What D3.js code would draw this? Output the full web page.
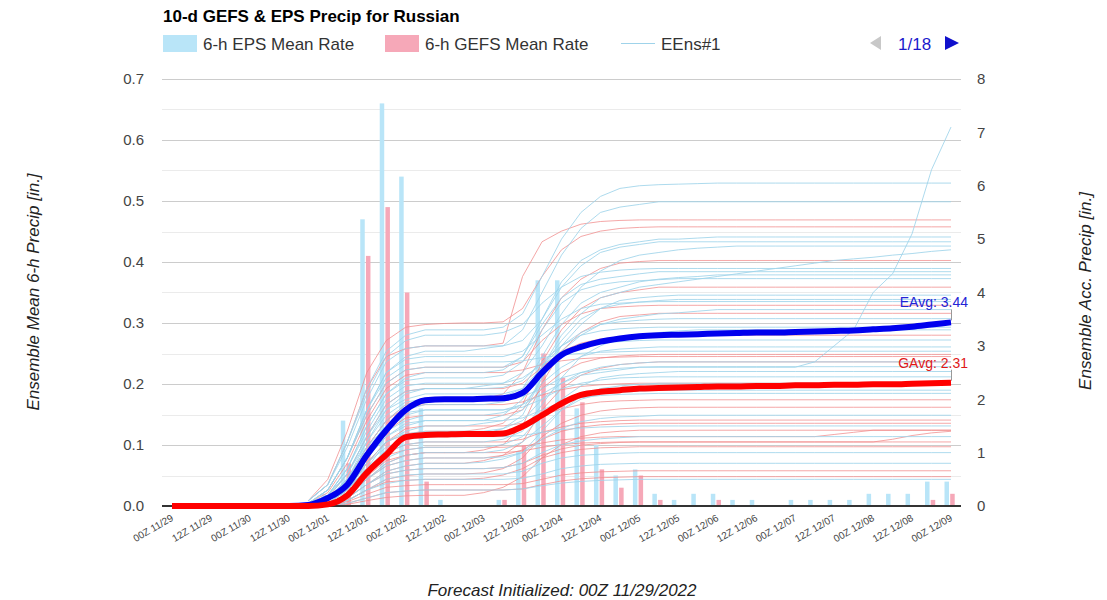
<!DOCTYPE html>
<html>
<head>
<meta charset="utf-8">
<script src="https://cdn.jsdelivr.net/npm/d3@7"></script>
<style>
body { margin: 0; background: #fff; }
svg { font-family: "Liberation Sans", Arial, sans-serif; }
</style>
</head>
<body>
<svg width="1107" height="600"></svg>
<script>
// 6-hourly steps from 00Z 11/29 to 00Z 12/09 (41 points), labels every 12h
var tickLabels = ["00Z 11/29","12Z 11/29","00Z 11/30","12Z 11/30","00Z 12/01","12Z 12/01",
  "00Z 12/02","12Z 12/02","00Z 12/03","12Z 12/03","00Z 12/04","12Z 12/04","00Z 12/05",
  "12Z 12/05","00Z 12/06","12Z 12/06","00Z 12/07","12Z 12/07","00Z 12/08","12Z 12/08","00Z 12/09"];

// 6-h mean rates [in.]
var epsBars = [0,0,0,0,0,0,0,0,0.02,0.14,0.47,0.66,0.54,0.16,0.01,0,0,0.01,0.09,0.37,0.37,0.16,0.10,0.05,
  0.06,0.02,0.01,0.02,0.02,0.01,0.01,0,0.01,0.01,0.01,0.01,0.02,0.02,0.02,0.04,0.04];
var gefsBars = [0,0,0,0,0,0,0,0,0,0.07,0.41,0.49,0.35,0.04,0,0,0,0.01,0.10,0.25,0.21,0.17,0.06,0.03,
  0.05,0.01,0,0,0.01,0,0,0,0,0,0,0,0,0,0,0.01,0.02];

// ensemble mean accumulations [in.]
var epsAvg = [0,0,0,0,0,0,0,0.02,0.15,0.4,0.95,1.42,1.8,1.98,2.0,2.0,2.01,2.02,2.12,2.5,2.83,2.98,3.08,3.14,
  3.18,3.2,3.21,3.22,3.23,3.24,3.25,3.25,3.26,3.27,3.28,3.29,3.31,3.33,3.36,3.4,3.44];
var gefsAvg = [0,0,0,0,0,0,0,0,0.03,0.2,0.62,0.96,1.29,1.33,1.34,1.35,1.35,1.36,1.49,1.7,1.92,2.08,2.14,2.17,
  2.2,2.21,2.22,2.23,2.24,2.24,2.25,2.25,2.26,2.26,2.27,2.27,2.28,2.28,2.29,2.3,2.31];

// member accumulations, starting at step 7 (18Z 11/30); earlier steps are 0
var memberStart = 7;
var epsMembers = [
  [0,.15,.5,1.0,1.5,1.7, 1.8,1.8,1.8,1.8,1.8,1.9, 2.1,2.3,2.45,2.5,2.55,2.6, 2.6,2.6,2.6,2.6,2.6,2.6,2.6,2.6, 2.7,3.0,3.3,4.0,4.35,5.1,6.3,7.1],
  [.1,.4,1.2,2.2,2.9,3.2, 3.3,3.3,3.3,3.3,3.35,3.6, 4.3,5.0,5.5,5.8,5.95,6.0, 6.02,6.03,6.04,6.05,6.05,6.05,6.05,6.05, 6.05,6.05,6.05,6.05,6.05,6.05,6.05,6.05],
  [.05,.3,.9,1.8,2.5,2.8, 2.9,2.9,2.9,2.95,3.0,3.3, 4.0,4.7,5.2,5.5,5.6,5.65, 5.7,5.7,5.7,5.7,5.7,5.7,5.7,5.7, 5.7,5.7,5.7,5.7,5.7,5.7,5.7,5.7],
  [0,.2,.7,1.5,2.1,2.4, 2.5,2.5,2.5,2.5,2.55,2.8, 3.5,4.2,4.6,4.8,4.9,4.95, 5.0,5.0,5.02,5.04,5.04,5.04,5.04,5.04, 5.04,5.04,5.04,5.04,5.04,5.04,5.04,5.04],
  [.1,.4,1.1,2.0,2.7,2.95, 3.0,3.0,3.0,3.0,3.0,3.1, 3.5,4.1,4.5,4.75,4.85,4.9, 4.95,4.95,4.95,4.95,4.95,4.95,4.95,4.95, 4.95,4.95,4.95,4.95,4.95,4.95,4.95,4.95],
  [0,.1,.5,1.2,1.8,2.1, 2.2,2.2,2.2,2.25,2.3,2.5, 3.0,3.6,4.1,4.4,4.6,4.7, 4.75,4.8,4.83,4.85,4.87,4.87,4.87,4.87, 4.87,4.87,4.87,4.87,4.87,4.87,4.87,4.87],
  [0,.1,.4,.9,1.3,1.5, 1.6,1.6,1.6,1.6,1.7,2.0, 2.6,3.2,3.6,3.9,4.0,4.1, 4.15,4.2,4.25,4.3,4.35,4.4,4.45,4.5, 4.55,4.6,4.63,4.66,4.7,4.73,4.77,4.8],
  [.05,.3,.9,1.7,2.3,2.55, 2.6,2.6,2.6,2.6,2.6,2.8, 3.4,3.9,4.15,4.25,4.3,4.35, 4.39,4.39,4.39,4.39,4.39,4.39,4.39,4.39, 4.39,4.39,4.39,4.39,4.39,4.39,4.39,4.39],
  [0,.1,.5,1.1,1.6,1.9, 2.0,2.0,2.0,2.0,2.05,2.2, 2.8,3.4,3.8,4.0,4.1,4.2, 4.25,4.28,4.3,4.33,4.33,4.33,4.33,4.33, 4.33,4.33,4.33,4.33,4.33,4.33,4.33,4.33],
  [.05,.2,.7,1.5,2.1,2.35, 2.4,2.4,2.4,2.4,2.45,2.7, 3.3,3.8,4.05,4.15,4.2,4.22, 4.24,4.26,4.26,4.26,4.26,4.26,4.26,4.26, 4.26,4.26,4.26,4.26,4.26,4.26,4.26,4.26],
  [0,.1,.4,1.0,1.5,1.8, 1.9,1.9,1.9,1.9,1.95,2.1, 2.6,3.1,3.5,3.7,3.78,3.82, 3.85,3.87,3.87,3.87,3.87,3.87,3.87,3.87, 3.87,3.87,3.87,3.87,3.87,3.87,3.87,3.87],
  [.05,.3,.9,1.8,2.5,2.75, 2.8,2.8,2.8,2.8,2.8,2.9, 3.2,3.5,3.7,3.78,3.8,3.82, 3.83,3.83,3.83,3.83,3.83,3.83,3.83,3.83, 3.83,3.83,3.83,3.83,3.83,3.83,3.83,3.83],
  [0,.05,.3,.7,1.2,1.4, 1.5,1.5,1.5,1.55,1.6,1.8, 2.4,2.9,3.2,3.4,3.5,3.55, 3.6,3.62,3.65,3.68,3.68,3.68,3.68,3.68, 3.68,3.68,3.68,3.68,3.68,3.68,3.68,3.68],
  [0,.2,.6,1.3,1.8,2.0, 2.1,2.1,2.1,2.1,2.1,2.2, 2.6,3.0,3.25,3.4,3.45,3.48, 3.5,3.51,3.51,3.51,3.51,3.51,3.51,3.51, 3.51,3.51,3.51,3.51,3.51,3.51,3.51,3.51],
  [0,.05,.3,.7,1.0,1.15, 1.2,1.2,1.2,1.2,1.25,1.4, 1.9,2.4,2.8,3.0,3.15,3.2, 3.25,3.28,3.3,3.3,3.3,3.3,3.3,3.3, 3.3,3.3,3.3,3.3,3.3,3.3,3.3,3.3],
  [.05,.2,.7,1.4,2.0,2.25, 2.3,2.3,2.3,2.3,2.3,2.4, 2.65,2.85,2.98,3.05,3.08,3.1, 3.11,3.11,3.11,3.11,3.11,3.11,3.11,3.11, 3.11,3.11,3.11,3.11,3.11,3.11,3.11,3.11],
  [0,.1,.4,1.0,1.4,1.6, 1.7,1.7,1.7,1.7,1.75,1.9, 2.3,2.6,2.8,2.9,2.94,2.96, 2.98,2.98,2.98,2.98,2.98,2.98,2.98,2.98, 2.98,2.98,2.98,2.98,2.98,2.98,2.98,2.98],
  [0,.05,.3,.8,1.2,1.35, 1.4,1.4,1.4,1.4,1.45,1.6, 2.0,2.3,2.5,2.6,2.65,2.68, 2.7,2.7,2.7,2.7,2.7,2.7,2.7,2.7, 2.7,2.7,2.7,2.7,2.7,2.7,2.7,2.7],
  [.05,.2,.6,1.2,1.7,1.95, 2.0,2.0,2.0,2.0,2.0,2.05, 2.2,2.4,2.5,2.55,2.58,2.6, 2.61,2.61,2.61,2.61,2.61,2.61,2.61,2.61, 2.61,2.61,2.61,2.61,2.61,2.61,2.61,2.61],
  [0,.05,.2,.6,.9,1.05, 1.1,1.1,1.1,1.1,1.15,1.3, 1.7,2.0,2.25,2.4,2.45,2.48, 2.5,2.52,2.52,2.52,2.52,2.52,2.52,2.52, 2.52,2.52,2.52,2.52,2.52,2.52,2.52,2.52],
  [0,.15,.5,1.1,1.5,1.75, 1.8,1.8,1.8,1.8,1.8,1.85, 2.0,2.2,2.3,2.36,2.4,2.41, 2.42,2.42,2.42,2.42,2.42,2.42,2.42,2.42, 2.42,2.42,2.42,2.42,2.42,2.42,2.42,2.42],
  [0,.05,.2,.5,.8,.95, 1.0,1.0,1.0,1.0,1.05,1.2, 1.5,1.8,2.0,2.1,2.13,2.15, 2.17,2.17,2.17,2.17,2.17,2.17,2.17,2.17, 2.17,2.17,2.17,2.17,2.17,2.17,2.17,2.17],
  [0,.1,.4,.9,1.3,1.55, 1.6,1.6,1.6,1.6,1.6,1.65, 1.8,1.95,2.03,2.07,2.09,2.1, 2.11,2.11,2.11,2.11,2.11,2.11,2.11,2.11, 2.11,2.11,2.11,2.11,2.11,2.11,2.11,2.11],
  [0,.05,.2,.5,.75,.85, .9,.9,.9,.9,.92,1.0, 1.25,1.45,1.58,1.64,1.67,1.68, 1.7,1.7,1.7,1.7,1.7,1.7,1.7,1.7, 1.7,1.7,1.7,1.7,1.7,1.7,1.7,1.7],
  [0,.1,.3,.8,1.1,1.25, 1.3,1.3,1.3,1.3,1.3,1.32, 1.38,1.43,1.46,1.48,1.49,1.5, 1.5,1.5,1.5,1.5,1.5,1.5,1.5,1.5, 1.5,1.5,1.5,1.5,1.5,1.5,1.5,1.5],
  [0,.02,.15,.4,.6,.67, .7,.7,.7,.7,.72,.8, 1.0,1.15,1.22,1.26,1.28,1.3, 1.3,1.3,1.3,1.3,1.3,1.3,1.3,1.3, 1.3,1.3,1.3,1.3,1.3,1.3,1.3,1.3],
  [0,0,.1,.3,.5,.58, .6,.6,.6,.6,.6,.65, .8,.9,.95,.97,.99,1.0, 1.0,1.0,1.0,1.0,1.0,1.0,1.0,1.0, 1.0,1.0,1.0,1.0,1.0,1.0,1.0,1.0],
  [0,.02,.1,.3,.42,.48, .5,.5,.5,.5,.5,.52, .6,.7,.75,.78,.79,.8, .8,.8,.8,.8,.8,.8,.8,.8, .8,.8,.8,.8,.8,.8,.8,.8],
  [0,0,.05,.15,.25,.28, .3,.3,.3,.3,.3,.32, .38,.43,.46,.48,.49,.5, .5,.5,.5,.5,.5,.5,.5,.5, .5,.5,.5,.5,.5,.5,.5,.5],
  [.05,.3,.9,1.8,2.4,2.65, 2.7,2.7,2.7,2.7,2.7,2.72, 2.78,2.83,2.86,2.88,2.89,2.9, 2.9,2.9,2.9,2.9,2.9,2.9,2.9,2.9, 2.9,2.9,2.9,2.9,2.9,2.9,2.9,2.9],
  [.1,.4,1.2,2.1,2.8,3.1, 3.2,3.2,3.2,3.2,3.25,3.4, 3.8,4.1,4.3,4.38,4.42,4.44, 4.45,4.45,4.45,4.45,4.45,4.45,4.45,4.45, 4.45,4.45,4.45,4.45,4.45,4.45,4.45,4.45],
  [0,.05,.3,.7,1.05,1.25, 1.3,1.3,1.3,1.35,1.45,1.7, 2.4,3.0,3.4,3.7,3.85,3.9, 3.93,3.95,3.95,3.95,3.95,3.95,3.95,3.95, 3.95,3.95,3.95,3.95,3.95,3.95,3.95,3.95],
  [0,.02,.15,.4,.65,.75, .8,.8,.8,.82,.88,1.0, 1.4,1.8,2.05,2.2,2.25,2.28, 2.3,2.3,2.3,2.3,2.3,2.3,2.3,2.3, 2.3,2.3,2.3,2.3,2.3,2.3,2.3,2.3],
  [0,.15,.6,1.3,1.9,2.15, 2.2,2.2,2.2,2.2,2.22,2.35, 2.7,3.0,3.2,3.28,3.32,3.34, 3.35,3.35,3.35,3.35,3.35,3.35,3.35,3.35, 3.35,3.35,3.35,3.35,3.35,3.35,3.35,3.35]
];
var gefsMembers = [
  [.1,.4,1.2,2.2,2.8,2.95, 3.0,3.0,3.0,3.0,3.05,4.3, 4.95,5.15,5.28,5.33,5.35,5.36, 5.36,5.36,5.36,5.36,5.36,5.36,5.36,5.36, 5.36,5.36,5.36,5.36,5.36,5.36,5.36,5.36],
  [.1,.5,1.4,2.5,3.1,3.35, 3.4,3.42,3.43,3.43,3.45,3.7, 4.3,4.8,5.05,5.15,5.2,5.22, 5.23,5.23,5.23,5.23,5.23,5.23,5.23,5.23, 5.23,5.23,5.23,5.23,5.23,5.23,5.23,5.23],
  [0,.1,.5,1.1,1.6,1.9, 2.0,2.0,2.0,2.0,2.1,2.5, 3.3,3.9,4.25,4.45,4.55,4.58, 4.6,4.6,4.6,4.6,4.6,4.6,4.6,4.6, 4.6,4.6,4.6,4.6,4.6,4.6,4.6,4.6],
  [0,.05,.3,.8,1.2,1.35, 1.4,1.4,1.4,1.45,1.55,1.9, 2.7,3.3,3.7,3.9,4.0,4.05, 4.1,4.1,4.1,4.1,4.1,4.1,4.1,4.1, 4.1,4.1,4.1,4.1,4.1,4.1,4.1,4.1],
  [.05,.3,.9,1.7,2.3,2.55, 2.6,2.6,2.6,2.6,2.6,2.7, 3.1,3.4,3.6,3.7,3.73,3.75, 3.76,3.76,3.76,3.76,3.76,3.76,3.76,3.76, 3.76,3.76,3.76,3.76,3.76,3.76,3.76,3.76],
  [0,.05,.2,.5,.8,.95, 1.0,1.0,1.0,1.05,1.15,1.5, 2.3,2.9,3.25,3.45,3.55,3.58, 3.61,3.61,3.61,3.61,3.61,3.61,3.61,3.61, 3.61,3.61,3.61,3.61,3.61,3.61,3.61,3.61],
  [0,.15,.6,1.3,1.9,2.15, 2.2,2.2,2.2,2.2,2.2,2.3, 2.6,2.9,3.05,3.13,3.17,3.19, 3.2,3.2,3.2,3.2,3.2,3.2,3.2,3.2, 3.2,3.2,3.2,3.2,3.2,3.2,3.2,3.2],
  [0,.1,.4,1.0,1.4,1.65, 1.7,1.7,1.7,1.7,1.7,1.8, 2.2,2.5,2.68,2.77,2.81,2.83, 2.84,2.84,2.84,2.84,2.84,2.84,2.84,2.84, 2.84,2.84,2.84,2.84,2.84,2.84,2.84,2.84],
  [0,.02,.15,.4,.65,.75, .8,.8,.8,.85,.95,1.2, 1.8,2.2,2.45,2.58,2.65,2.68, 2.7,2.7,2.7,2.7,2.7,2.7,2.7,2.7, 2.7,2.7,2.7,2.7,2.7,2.7,2.7,2.7],
  [0,.1,.5,1.1,1.6,1.85, 1.9,1.9,1.9,1.9,1.9,1.95, 2.08,2.18,2.24,2.27,2.29,2.3, 2.3,2.3,2.3,2.3,2.3,2.3,2.3,2.3, 2.3,2.3,2.3,2.3,2.3,2.3,2.3,2.3],
  [0,.05,.3,.8,1.2,1.45, 1.5,1.5,1.5,1.5,1.5,1.55, 1.7,1.82,1.9,1.95,1.97,1.98, 1.99,1.99,1.99,1.99,1.99,1.99,1.99,1.99, 1.99,1.99,1.99,1.99,1.99,1.99,1.99,1.99],
  [0,0,.1,.3,.5,.57, .6,.6,.6,.62,.7,.9, 1.3,1.55,1.7,1.78,1.82,1.84, 1.85,1.85,1.85,1.85,1.85,1.85,1.85,1.85, 1.85,1.85,1.85,1.85,1.85,1.85,1.85,1.85],
  [0,.05,.3,.7,1.0,1.15, 1.2,1.2,1.2,1.2,1.2,1.25, 1.38,1.48,1.55,1.58,1.6,1.61, 1.61,1.61,1.61,1.61,1.61,1.61,1.61,1.61, 1.61,1.61,1.61,1.61,1.61,1.61,1.61,1.61],
  [0,.05,.3,.7,.95,1.05, 1.1,1.1,1.1,1.1,1.1,1.12, 1.18,1.24,1.27,1.29,1.3,1.3, 1.3,1.3,1.3,1.3,1.3,1.3,1.3,1.3, 1.3,1.34,1.38,1.42,1.42,1.42,1.42,1.42],
  [0,.02,.2,.5,.75,.85, .9,.9,.9,.9,.95,1.05, 1.25,1.4,1.48,1.52,1.54,1.55, 1.55,1.55,1.55,1.55,1.55,1.55,1.55,1.55, 1.55,1.55,1.55,1.55,1.55,1.55,1.55,1.55],
  [0,.05,.2,.55,.85,.95, 1.0,1.0,1.0,1.0,1.0,1.03, 1.1,1.15,1.18,1.19,1.2,1.2, 1.2,1.2,1.2,1.2,1.2,1.2,1.2,1.2, 1.2,1.2,1.2,1.2,1.25,1.32,1.37,1.4],
  [0,.02,.15,.4,.6,.67, .7,.7,.7,.7,.72,.8, .95,1.07,1.14,1.17,1.19,1.2, 1.2,1.2,1.2,1.2,1.2,1.2,1.2,1.2, 1.2,1.2,1.2,1.2,1.2,1.2,1.2,1.2],
  [0,0,.1,.3,.45,.48, .5,.5,.5,.52,.58,.7, .9,1.0,1.06,1.09,1.1,1.11, 1.11,1.11,1.11,1.11,1.11,1.11,1.11,1.11, 1.11,1.11,1.11,1.11,1.11,1.11,1.11,1.11],
  [0,0,.08,.22,.35,.38, .4,.4,.4,.4,.4,.42, .5,.58,.62,.64,.65,.66, .66,.66,.66,.66,.66,.66,.66,.66, .66,.66,.66,.66,.66,.66,.66,.66],
  [0,0,.05,.15,.25,.28, .3,.3,.3,.3,.3,.32, .4,.47,.51,.53,.54,.55, .55,.55,.55,.55,.55,.55,.55,.55, .55,.55,.55,.55,.55,.55,.55,.55],
  [.05,.25,.8,1.6,2.2,2.45, 2.5,2.5,2.5,2.5,2.5,2.55, 2.65,2.72,2.76,2.78,2.79,2.8, 2.8,2.8,2.8,2.8,2.8,2.8,2.8,2.8, 2.8,2.8,2.8,2.8,2.8,2.8,2.8,2.8],
  [0,0,.03,.1,.16,.19, .2,.2,.2,.25,.35,.55, .9,1.15,1.3,1.37,1.4,1.42, 1.42,1.42,1.42,1.42,1.42,1.42,1.42,1.42, 1.42,1.42,1.42,1.42,1.42,1.42,1.42,1.42]
];

var leftTicks = [0, 0.1, 0.2, 0.3, 0.4, 0.5, 0.6, 0.7];
var rightTicks = [0, 1, 2, 3, 4, 5, 6, 7, 8];

var svg = d3.select("svg");

var x = d3.scaleLinear().domain([0, 40]).range([172, 951]);
var yL = d3.scaleLinear().domain([0, 0.7]).range([506, 79]);
var yR = d3.scaleLinear().domain([0, 8]).range([506, 79]);

// gridlines (major every 0.1, minor every 0.05)
svg.append("g")
  .selectAll("line")
  .data(d3.range(0, 15).map(function(i) { return i * 0.05; }))
  .enter().append("line")
    .attr("x1", 162).attr("x2", 961)
    .attr("y1", function(d) { return Math.round(yL(d)) + 0.5; })
    .attr("y2", function(d) { return Math.round(yL(d)) + 0.5; })
    .attr("stroke", function(d, i) { return i % 2 ? "#ebebeb" : "#cccccc"; });

// bars
var bars = svg.append("g");
bars.selectAll(".eps")
  .data(epsBars)
  .enter().append("rect")
    .attr("x", function(d, i) { return x(i) - 6.5; })
    .attr("width", 4.5)
    .attr("y", function(d) { return yL(d); })
    .attr("height", function(d) { return yL(0) - yL(d); })
    .attr("fill", "#b9e5f8");
bars.selectAll(".gefs")
  .data(gefsBars)
  .enter().append("rect")
    .attr("x", function(d, i) { return x(i) - 0.8; })
    .attr("width", 4.5)
    .attr("y", function(d) { return yL(d); })
    .attr("height", function(d) { return yL(0) - yL(d); })
    .attr("fill", "#f6a8b8");

// ensemble members
var memberLine = d3.line()
  .x(function(d, i) { return x(i + memberStart); })
  .y(function(d) { return yR(d); });

svg.append("g")
  .selectAll("path")
  .data(gefsMembers)
  .enter().append("path")
    .attr("d", memberLine)
    .attr("fill", "none")
    .attr("stroke", "#f08a8a")
    .attr("stroke-opacity", 0.75)
    .attr("stroke-width", 1);

svg.append("g")
  .selectAll("path")
  .data(epsMembers)
  .enter().append("path")
    .attr("d", memberLine)
    .attr("fill", "none")
    .attr("stroke", "#9fd3ea")
    .attr("stroke-opacity", 0.85)
    .attr("stroke-width", 1);

// flat start of members at zero
svg.append("line")
  .attr("x1", x(0)).attr("x2", x(memberStart))
  .attr("y1", yR(0)).attr("y2", yR(0))
  .attr("stroke", "#9fd3ea");

// baseline
svg.append("line")
  .attr("x1", 162).attr("x2", 961)
  .attr("y1", 506).attr("y2", 506)
  .attr("stroke", "#333").attr("stroke-width", 2);

// ensemble means
var avgLine = d3.line()
  .x(function(d, i) { return x(i); })
  .y(function(d) { return yR(d); })
  .curve(d3.curveMonotoneX);

svg.append("path")
  .datum(epsAvg)
  .attr("d", avgLine)
  .attr("fill", "none")
  .attr("stroke", "#0000ee")
  .attr("stroke-width", 6)
  .attr("stroke-linejoin", "round");

svg.append("path")
  .datum(gefsAvg)
  .attr("d", avgLine)
  .attr("fill", "none")
  .attr("stroke", "#ff0000")
  .attr("stroke-width", 6)
  .attr("stroke-linejoin", "round");

// annotations
[[epsAvg, "EAvg: ", "#2323d6"], [gefsAvg, "GAvg: ", "#e01818"]].forEach(function(a) {
  var v = a[0][a[0].length - 1];
  var yy = yR(v);
  svg.append("line")
    .attr("x1", x(40) + 0.5).attr("x2", x(40) + 0.5)
    .attr("y1", yy - 13).attr("y2", yy - 2)
    .attr("stroke", "#999");
  svg.append("text")
    .attr("x", 968)
    .attr("y", yy - 15)
    .attr("text-anchor", "end")
    .attr("font-size", 14)
    .attr("fill", a[2])
    .text(a[1] + v.toFixed(2));
});

// left axis
var axL = svg.append("g")
  .attr("transform", "translate(150,0)")
  .call(d3.axisLeft(yL).tickValues(leftTicks).tickFormat(d3.format(".1f")).tickSize(0).tickPadding(6));
axL.select(".domain").remove();
axL.selectAll("text").attr("font-size", 15).attr("fill", "#444").attr("font-family", null);

// right axis
var axR = svg.append("g")
  .attr("transform", "translate(971,0)")
  .call(d3.axisRight(yR).tickValues(rightTicks).tickSize(0).tickPadding(6));
axR.select(".domain").remove();
axR.selectAll("text").attr("font-size", 15).attr("fill", "#444").attr("font-family", null);

// x tick labels
svg.append("g")
  .selectAll("text")
  .data(tickLabels)
  .enter().append("text")
    .attr("transform", function(d, i) { return "translate(" + (x(i * 2) + 2) + ",520) rotate(-30)"; })
    .attr("text-anchor", "end")
    .attr("font-size", 10)
    .attr("fill", "#444")
    .text(function(d) { return d; });

// axis titles
svg.append("text")
  .attr("transform", "translate(39,292) rotate(-90)")
  .attr("text-anchor", "middle")
  .attr("font-size", 17).attr("font-style", "italic").attr("fill", "#222")
  .text("Ensemble Mean 6-h Precip [in.]");

svg.append("text")
  .attr("transform", "translate(1091,291) rotate(-90)")
  .attr("text-anchor", "middle")
  .attr("font-size", 17).attr("font-style", "italic").attr("fill", "#222")
  .text("Ensemble Acc. Precip [in.]");

svg.append("text")
  .attr("x", 562).attr("y", 596)
  .attr("text-anchor", "middle")
  .attr("font-size", 17).attr("font-style", "italic").attr("fill", "#222")
  .text("Forecast Initialized: 00Z 11/29/2022");

// title and legend
svg.append("text")
  .attr("x", 163).attr("y", 22)
  .attr("font-size", 17).attr("font-weight", "bold").attr("fill", "#000")
  .text("10-d GEFS & EPS Precip for Russian");

var legend = svg.append("g").attr("font-size", 17).attr("fill", "#333");
legend.append("rect").attr("x", 163).attr("y", 35).attr("width", 34).attr("height", 17).attr("fill", "#b9e5f8");
legend.append("text").attr("x", 203).attr("y", 50).text("6-h EPS Mean Rate");
legend.append("rect").attr("x", 385).attr("y", 35).attr("width", 34).attr("height", 17).attr("fill", "#f6a8b8");
legend.append("text").attr("x", 425).attr("y", 50).text("6-h GEFS Mean Rate");
legend.append("line").attr("x1", 621).attr("x2", 655).attr("y1", 43.5).attr("y2", 43.5).attr("stroke", "#9fd3ea");
legend.append("text").attr("x", 661).attr("y", 50).text("EEns#1");

// pager
svg.append("path").attr("d", "M870,43 L881,36 L881,50 Z").attr("fill", "#c8c8c8");
svg.append("text").attr("x", 898).attr("y", 50).attr("font-size", 17).attr("fill", "#1a1acc").text("1/18");
svg.append("path").attr("d", "M959,43 L945,36 L945,50 Z").attr("fill", "#1010cc");
</script>
</body>
</html>
